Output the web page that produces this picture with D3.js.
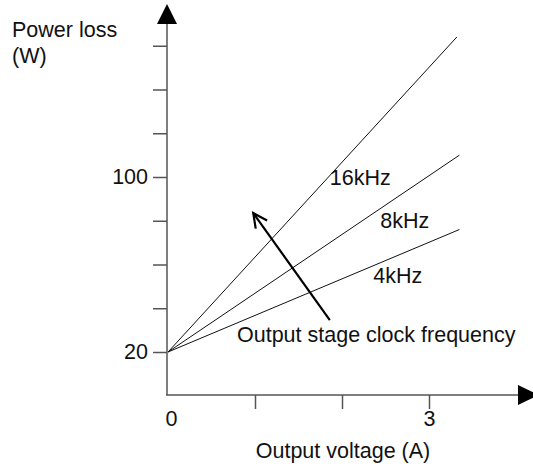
<!DOCTYPE html>
<html>
  <head>
    <meta charset="utf-8">
    <style>
        body { margin: 0; background: #fff; }
        text { font-family: "Liberation Sans", Arial, sans-serif; }
    </style>
    <script src="https://d3js.org/d3.v7.min.js"></script>
  </head>
  <body>
    <svg></svg>
    <script>
    // chart values
    var freqs = ["4kHz", "8kHz", "16kHz"];
    var startCurrent = 0, startLoss = 20;
    var endCurrent = [3.35, 3.35, 3.32];
    var endLoss = [76, 110, 164];
    var yTicks = [20, 40, 60, 80, 100, 120, 140, 160];
    var yTickLabels = {20: "20", 100: "100"};
    var xTicks = [0, 1, 2, 3];
    var xTickLabels = {0: "0", 3: "3"};

    var fs = 21.5;

    var svg = d3.select("svg")
        .attr("width", 533)
        .attr("height", 466);

    var x = d3.scaleLinear().domain([0, 3]).range([168, 429]);
    var y = d3.scaleLinear().domain([20, 100]).range([352, 177]);

    var axisColor = "#555";

    // axis lines with arrows
    svg.append("line")
        .attr("x1", 167).attr("y1", 395).attr("x2", 167).attr("y2", 22)
        .attr("stroke", axisColor).attr("stroke-width", 1.5);
    svg.append("line")
        .attr("x1", 166).attr("y1", 395).attr("x2", 520).attr("y2", 395)
        .attr("stroke", axisColor).attr("stroke-width", 1.5);
    svg.append("path")
        .attr("d", "M167,4 L177,24 L157,24 Z")
        .attr("fill", "#000");
    svg.append("path")
        .attr("d", "M539,395 L518,385 L518,405 Z")
        .attr("fill", "#000");

    // y ticks
    var gy = svg.append("g")
        .attr("transform", "translate(167,0)")
        .call(d3.axisLeft(y)
            .tickValues(yTicks)
            .tickSize(14)
            .tickPadding(5)
            .tickFormat(function(d) { return yTickLabels[d] || ""; }));
    gy.select(".domain").remove();
    gy.selectAll("line").attr("stroke", axisColor).attr("stroke-width", 1.5);
    gy.selectAll("text").attr("font-size", fs).attr("fill", "#111")
        .style("font-family", "Liberation Sans, Arial, sans-serif");

    // x ticks
    var gx = svg.append("g")
        .attr("transform", "translate(0,395)")
        .call(d3.axisBottom(x)
            .tickValues(xTicks)
            .tickSize(14)
            .tickPadding(2)
            .tickFormat(function(d) { return xTickLabels[d] || ""; }));
    gx.select(".domain").remove();
    gx.selectAll("line").attr("stroke", axisColor).attr("stroke-width", 1.5);
    gx.selectAll(".tick").filter(function(d) { return d === 0; })
        .select("line").remove();
    gx.selectAll(".tick").filter(function(d) { return d === 0; })
        .select("text").attr("x", 3);
    gx.selectAll("text").attr("font-size", fs).attr("fill", "#111")
        .style("font-family", "Liberation Sans, Arial, sans-serif");

    // lines
    svg.append("g").selectAll("line")
        .data(freqs)
        .enter().append("line")
          .attr("x1", x(startCurrent))
          .attr("y1", y(startLoss))
          .attr("x2", function(d, i) { return x(endCurrent[i]); })
          .attr("y2", function(d, i) { return y(endLoss[i]); })
          .attr("stroke", "#111")
          .attr("stroke-width", 1);

    // line labels
    var labelAt = {"16kHz": [1.86, 96.3], "8kHz": [2.44, 76.7], "4kHz": [2.36, 51.5]};
    svg.append("g").selectAll("text")
        .data(freqs)
        .enter().append("text")
          .attr("x", function(d) { return x(labelAt[d][0]); })
          .attr("y", function(d) { return y(labelAt[d][1]); })
          .attr("font-size", fs)
          .attr("fill", "#111")
          .text(function(d) { return d; });

    // annotation arrow
    svg.append("defs").append("marker")
        .attr("id", "vhead")
        .attr("markerUnits", "userSpaceOnUse")
        .attr("viewBox", "-16 -10 20 20")
        .attr("markerWidth", 20)
        .attr("markerHeight", 20)
        .attr("refX", 0).attr("refY", 0)
        .attr("orient", "auto")
      .append("path")
        .attr("d", "M-14,-7 L0,0 L-14,7")
        .attr("fill", "none")
        .attr("stroke", "#000")
        .attr("stroke-width", 2.2);

    svg.append("line")
        .attr("x1", x(1.86)).attr("y1", y(34.6))
        .attr("x2", x(0.98)).attr("y2", y(83.5))
        .attr("stroke", "#000")
        .attr("stroke-width", 2.2)
        .attr("marker-end", "url(#vhead)");

    svg.append("text")
        .attr("x", 237).attr("y", 342)
        .attr("font-size", fs).attr("fill", "#111")
        .text("Output stage clock frequency");

    // axis titles
    svg.append("text")
        .attr("x", 12).attr("y", 37)
        .attr("font-size", fs).attr("fill", "#111")
        .text("Power loss");
    svg.append("text")
        .attr("x", 12).attr("y", 63)
        .attr("font-size", fs).attr("fill", "#111")
        .text("(W)");
    svg.append("text")
        .attr("x", 343).attr("y", 458)
        .attr("text-anchor", "middle")
        .attr("font-size", fs).attr("fill", "#111")
        .text("Output voltage (A)");
    </script>
  </body>
</html>
